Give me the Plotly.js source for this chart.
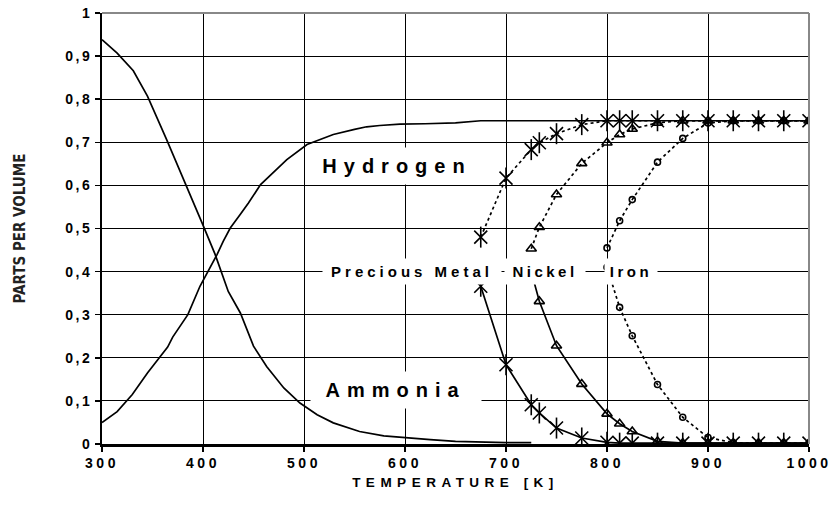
<!DOCTYPE html>
<html>
<head>
<meta charset="utf-8">
<script src="https://cdn.plot.ly/plotly-3.0.1.min.js"></script>
<style>
  html, body { margin: 0; padding: 0; background: #fff; }
  #chart { width: 832px; height: 514px; }
  .xtick text { letter-spacing: 3.5px; }
  .ytick text { letter-spacing: 2.5px; }
  .g-xtitle text { letter-spacing: 5.5px; }
  .annotation[data-index="0"] text { letter-spacing: 7px; }
  .annotation[data-index="1"] text { letter-spacing: 7px; }
  .annotation[data-index="2"] text { letter-spacing: 4px; }
  .annotation[data-index="3"] text { letter-spacing: 3.5px; }
  .annotation[data-index="4"] text { letter-spacing: 3.5px; }
</style>
</head>
<body>
<div id="chart"></div>
<script>
// Equilibrium curves (no catalyst)
const eqTemp = [300,315,330,345,355,365,370,385,397,407,414,420,427,437,445,457,465,483,503,529,550,562,575,595,620,650,675,700,750,800,850,900,950,1000];
const eqHydrogen = [0.05,0.075,0.115,0.165,0.195,0.225,0.248,0.300,0.366,0.409,0.440,0.470,0.501,0.533,0.559,0.602,0.620,0.660,0.695,0.718,0.730,0.736,0.739,0.742,0.743,0.745,0.75,0.75,0.75,0.75,0.75,0.75,0.75,0.75];
const ammTemp = [300,315,331,345,364,384,400,412,425,437,450,463,480,496,513,529,555,579,601,625,650,675,700,725];
const eqAmmonia = [0.938,0.907,0.866,0.807,0.706,0.598,0.508,0.44,0.354,0.304,0.227,0.18,0.13,0.095,0.068,0.049,0.029,0.019,0.014,0.010,0.006,0.004,0.003,0.003];

// Precious metal catalyst
const pmTemp = [675,700,725,733,750,775,800,812.5,825,850,875,900,925,950,975,1000];
const pmHydrogen = [0.48,0.617,0.683,0.699,0.72,0.741,0.75,0.75,0.75,0.75,0.75,0.75,0.75,0.75,0.75,0.75];
const pmAmmonia = [0.366,0.184,0.091,0.072,0.037,0.014,0.004,0.002,0.002,0.002,0.002,0.002,0.002,0.002,0.002,0.002];

// Nickel catalyst
const niTemp = [725,733,750,775,800,812.5,825,850,875,900,925,950,975,1000];
const niHydrogen = [0.453,0.503,0.579,0.651,0.699,0.718,0.731,0.745,0.75,0.75,0.75,0.75,0.75,0.75];
const niAmmonia = [0.40,0.331,0.228,0.139,0.070,0.047,0.029,0.006,0.002,0.002,0.002,0.002,0.002,0.002];

// Iron catalyst
const feTemp = [800,812.5,825,850,875,900,925,950,975,1000];
const feHydrogen = [0.455,0.518,0.567,0.654,0.709,0.745,0.75,0.75,0.75,0.75];
const feAmmonia = [0.41,0.317,0.251,0.138,0.062,0.015,0.003,0.002,0.002,0.002];

const xTicks = [300,400,500,600,700,800,900,1000];
const labels = ["Hydrogen","Ammonia","Precious Metal","Nickel","Iron"];
const xTitle = "TEMPERATURE [K]";
const yTitle = "PARTS PER VOLUME";

const black = "#000000";
const solid = {color: black, width: 1.7, dash: "solid"};
const dotted = {color: black, width: 1.7, dash: "dot"};

function curve(x, y, line) {
  return {x: x, y: y, mode: "lines", line: line, hoverinfo: "skip", showlegend: false};
}
function marked(x, y, line, symbol, size) {
  return {x: x, y: y, mode: "lines+markers", line: line,
    marker: {symbol: symbol, size: size, color: black, line: {color: black, width: 1.6}},
    hoverinfo: "skip", showlegend: false};
}
function onlyMarks(x, y, symbol, size) {
  return {x: x, y: y, mode: "markers",
    marker: {symbol: symbol, size: size, color: black, line: {color: black, width: 1.6}},
    hoverinfo: "skip", showlegend: false};
}

const traces = [
  curve(eqTemp, eqHydrogen, solid),
  curve(ammTemp, eqAmmonia, solid),
  marked(pmTemp, pmHydrogen, dotted, "x-thin-open", 13),
  onlyMarks(pmTemp, pmHydrogen, "line-ns-open", 15),
  marked(pmTemp, pmAmmonia, solid, "x-thin-open", 13),
  onlyMarks(pmTemp, pmAmmonia, "line-ns-open", 15),
  marked(niTemp, niHydrogen, dotted, "triangle-up-open", 9),
  marked(niTemp, niAmmonia, solid, "triangle-up-open", 9),
  marked(feTemp, feHydrogen, dotted, "circle-open", 6),
  marked(feTemp, feAmmonia, dotted, "circle-open", 6)
];

const labelFont = {family: "Liberation Sans, Arial, sans-serif", size: 20, color: black, weight: "bold"};
const smallFont = {family: "Liberation Sans, Arial, sans-serif", size: 15, color: black, weight: "bold"};

const annotations = [
  {text: labels[0], x: 592, y: 0.645, xref: "x", yref: "y", showarrow: false, font: labelFont, bgcolor: "#ffffff", width: 170, height: 36, borderpad: 0},
  {text: labels[1], x: 591, y: 0.126, xref: "x", yref: "y", showarrow: false, font: labelFont, bgcolor: "#ffffff", width: 170, height: 36, borderpad: 0},
  {text: labels[2], x: 607, y: 0.40, xref: "x", yref: "y", showarrow: false, font: smallFont, bgcolor: "#ffffff", width: 178, height: 25, borderpad: 0},
  {text: labels[3], x: 739, y: 0.40, xref: "x", yref: "y", showarrow: false, font: smallFont, bgcolor: "#ffffff", width: 80, height: 25, borderpad: 0},
  {text: labels[4], x: 824, y: 0.40, xref: "x", yref: "y", showarrow: false, font: smallFont, bgcolor: "#ffffff", width: 52, height: 25, borderpad: 0}
];

const layout = {
  width: 832, height: 514,
  margin: {l: 102, r: 23, t: 13, b: 70, pad: 0},
  paper_bgcolor: "#ffffff", plot_bgcolor: "#ffffff",
  separators: ",.",
  showlegend: false,
  font: {family: "Liberation Sans, Arial, sans-serif", color: black},
  xaxis: {
    range: [300, 1000], tickvals: xTicks, showgrid: true, gridcolor: black, gridwidth: 1,
    zeroline: false, showline: true, linecolor: black, linewidth: 2.5,
    ticks: "outside", ticklen: 5, tickwidth: 1.5, tickcolor: black,
    tickfont: {size: 14, weight: "bold", color: black},
    title: {text: xTitle, font: {size: 13.5, weight: "bold", color: black}, standoff: 8}
  },
  yaxis: {
    range: [0, 1], dtick: 0.1, tick0: 0, showgrid: true, gridcolor: black, gridwidth: 1,
    zeroline: false, showline: true, linecolor: black, linewidth: 2,
    ticks: "outside", ticklen: 5, tickwidth: 1.5, tickcolor: black,
    tickfont: {size: 14, weight: "bold", color: black},
    title: {text: yTitle, font: {family: "Liberation Sans Narrow, DejaVu Sans Condensed, sans-serif", size: 15, weight: "bold", color: "#222"}, standoff: 36}
  },
  shapes: [
    {type: "line", xref: "paper", yref: "paper", x0: 0, x1: 1, y0: 1, y1: 1, line: {color: "#888888", width: 2}},
    {type: "line", xref: "paper", yref: "paper", x0: 1, x1: 1, y0: 0, y1: 1, line: {color: "#888888", width: 2}}
  ],
  annotations: annotations
};

Plotly.newPlot("chart", traces, layout, {staticPlot: true, displayModeBar: false});
</script>
</body>
</html>
